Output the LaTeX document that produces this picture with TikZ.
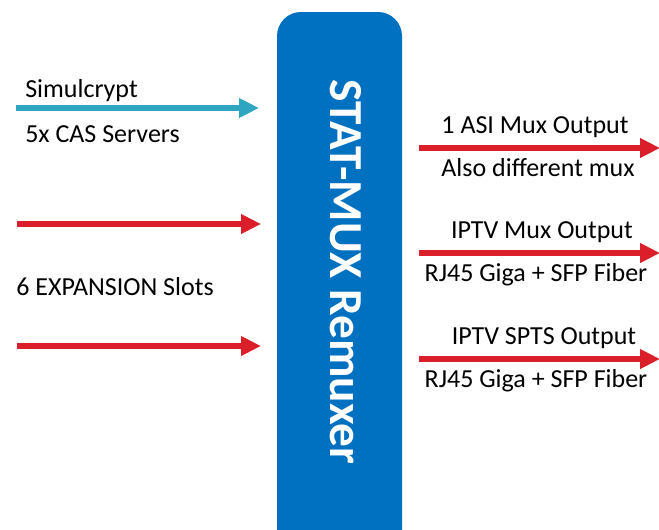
\documentclass[tikz,border=0pt]{standalone}
\usepackage{fontspec}
\setmainfont{Carlito}
\usetikzlibrary{arrows.meta}
\definecolor{remuxblue}{HTML}{0070C0}
\definecolor{feedred}{HTML}{DA1F2B}
\definecolor{simcyan}{HTML}{2FA5C2}
\tikzset{
    feed/.style={line width=4.5pt,-{Triangle[length=15pt,width=14pt]}},
    lbl/.style={inner sep=0pt,font=\fontsize{19.5}{23}\selectfont},
}

\begin{document}
\begin{tikzpicture}[x=0.75pt,y=-0.75pt]
\useasboundingbox (0,0) rectangle (659,529);
% the remuxer box
\node[fill=remuxblue,rounded corners=18pt,minimum width=93.75pt,minimum height=420pt,inner sep=0pt] (remux) at (339.5,292) {};
\node[rotate=-90,text=white,inner sep=0pt,font=\bfseries\fontsize{35.5}{40}\selectfont] (title) at (346,272) {STAT-MUX Remuxer};
% inputs
\coordinate (cas in) at (16,108);
\coordinate (cas out) at (259,108);
\draw[feed,simcyan] (cas in) -- (cas out);
\node[lbl,anchor=base west] (simulcrypt) at (25,97) {Simulcrypt};
\node[lbl,anchor=base west] (cas) at (25,142) {5x CAS Servers};
\foreach \y[count=\i] in {224,346}{
    \coordinate (slot\i in) at (17,\y);
    \coordinate (slot\i out) at (261,\y);
    \draw[feed,feedred] (slot\i in) -- (slot\i out);
}
\node[lbl,anchor=base west] (slots) at (16,295) {6 EXPANSION Slots};
% outputs
\foreach \y/\xa/\up/\xb/\down[count=\i] in {
    148/535/1 ASI Mux Output/538/Also different mux,
    253/542/IPTV Mux Output/536/RJ45 Giga + SFP Fiber,
    359/544/IPTV SPTS Output/536/RJ45 Giga + SFP Fiber
}{
    \coordinate (out\i a) at (419,\y);
    \coordinate (out\i b) at (660,\y);
    \draw[feed,feedred] (out\i a) -- (out\i b);
    \node[lbl,anchor=base] (up\i) at (\xa,\y-15) {\up};
    \node[lbl,anchor=base] (down\i) at (\xb,\y+28) {\down};
}
\end{tikzpicture}
\end{document}
